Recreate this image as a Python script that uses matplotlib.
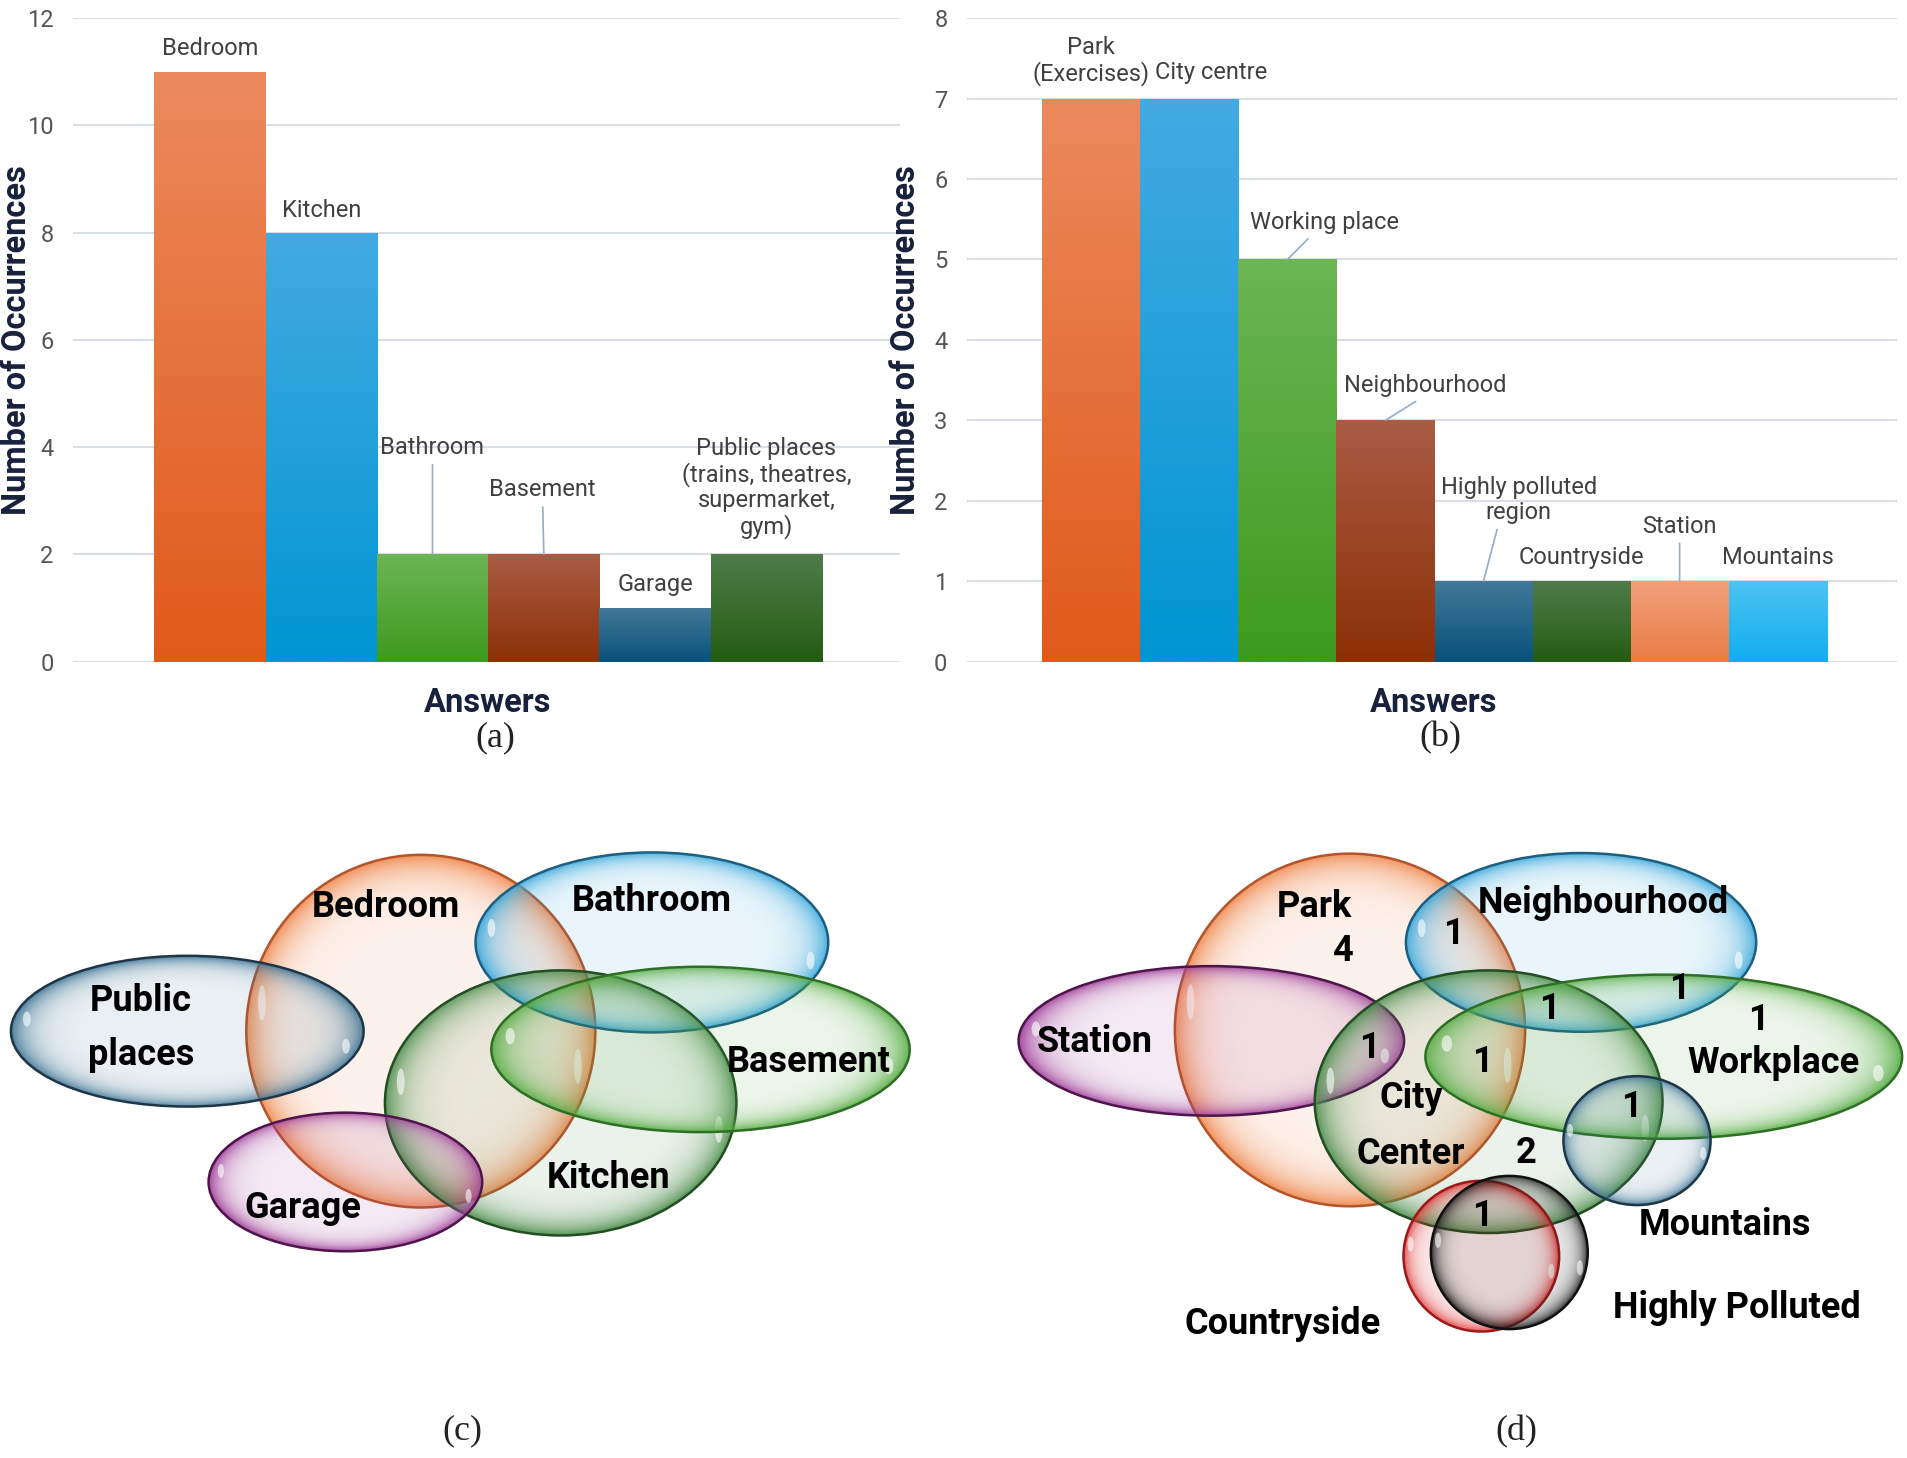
import numpy as np
import matplotlib
matplotlib.use('Agg')
import matplotlib.pyplot as plt
import matplotlib.colors as mcolors
from matplotlib.patches import Ellipse

plt.rcParams['font.family'] = ['Roboto', 'DejaVu Sans']

# ---- bar chart data ----
rooms = ['Bedroom', 'Kitchen', 'Bathroom', 'Basement', 'Garage',
         'Public places\n(trains, theatres,\nsupermarket,\ngym)']
room_counts = [11, 8, 2, 2, 1, 2]
room_top = ['#ec8a5e', '#44aae2', '#6cb655', '#aa5c44', '#427898', '#4f7c4a']
room_bot = ['#e05a1a', '#0096d2', '#3d9a1e', '#8c3006', '#08527a', '#245c12']

places = ['Park\n(Exercises)', 'City centre', 'Working place', 'Neighbourhood',
          'Highly polluted\nregion', 'Countryside', 'Station', 'Mountains']
place_counts = [7, 7, 5, 3, 1, 1, 1, 1]
place_top = ['#ec8a5e', '#44aae2', '#6cb655', '#aa5c44', '#427898', '#4f7c4a', '#f2a07a', '#4ec3f2']
place_bot = ['#e05a1a', '#0096d2', '#3d9a1e', '#8c3006', '#08527a', '#245c12', '#ea7c46', '#10aeee']

# label offsets (dx in bar widths, dy in counts) and leader line flag
room_lbl = [(0, 0.43, False), (0, 0.42, False), (0, 1.99, True),
            (-0.01, 1.20, True), (0, 0.43, False), (0, 1.24, False)]
place_lbl = [(0, 0.47, False), (0.22, 0.32, False), (0.38, 0.46, True),
             (0.41, 0.43, True), (0.36, 1.01, True), (0, 0.29, False),
             (0, 0.68, True), (0, 0.29, False)]
place_relx = [0.5, 0.5, 0.42, 0.48, 0.37, 0.5, 0.5, 0.5]

# ---- venn data (canvas units, 1568 x 1199) ----
venn_c = ['Bedroom', 'Bathroom', 'Public places', 'Kitchen', 'Basement', 'Garage']
venn_c_xy = [(346, 848), (536, 775), (154, 848), (461, 907), (576, 863), (284, 972)]
venn_c_wh = [(287, 290), (290, 148), (290, 124), (289, 218), (344, 136), (225, 114)]
venn_c_col = ['orange', 'blue', 'steel', 'dgreen', 'green', 'purple']
venn_c_text = ['Bedroom', 'Bathroom', 'Public', 'places', 'Basement', 'Kitchen', 'Garage']
venn_c_text_xy = [(317, 746), (536, 741), (116, 823), (116, 868), (665, 873), (500, 969), (249, 993)]

venn_d = ['Park', 'Neighbourhood', 'Station', 'City Center', 'Workplace',
          'Mountains', 'Countryside', 'Highly Polluted']
venn_d_xy = [(1110, 847), (1300, 775), (996, 856), (1224, 906), (1368, 869),
             (1346, 938), (1218, 1033), (1241, 1030)]
venn_d_wh = [(288, 290), (288, 147), (317, 123), (286, 216), (392, 135),
             (121, 106), (128, 124), (129, 126)]
venn_d_col = ['orange', 'blue', 'purple', 'dgreen', 'green', 'steel', 'red', 'black']
venn_d_text = ['Park', '4', 'Neighbourhood', '1', '1', '1', '1', 'Station', '1', '1',
               'Workplace', 'City', '1', 'Center', '2', '1', 'Mountains',
               'Highly Polluted', 'Countryside']
venn_d_text_xy = [(1081, 746), (1104, 782), (1318, 743), (1195, 768), (1381, 813),
                  (1274, 830), (1446, 839), (900, 857), (1126, 862), (1219, 873),
                  (1458, 874), (1160, 903), (1341, 910), (1160, 949), (1255, 948),
                  (1219, 1000), (1418, 1007), (1428, 1076), (1055, 1089)]

palette = {
    'orange': ('#f08a50', '#b5532a'),
    'blue': ('#3aa8dc', '#1d5f80'),
    'steel': ('#3f7595', '#1e3647'),
    'dgreen': ('#4e8f4e', '#234d23'),
    'green': ('#58ad45', '#2f6e25'),
    'purple': ('#a0409a', '#4d154a'),
    'red': ('#e03a3a', '#9e1a1a'),
    'black': ('#202020', '#101010'),
}

fig = plt.figure(figsize=(19.07, 14.58), dpi=100)
W, H = 1568.0, 1199.0


def shade_bars(ax, bars, tops, bots):
    g = np.linspace(0, 1, 200)[:, None, None]
    for b, c1, c2 in zip(bars, tops, bots):
        c1 = np.array(mcolors.to_rgb(c1))
        c2 = np.array(mcolors.to_rgb(c2))
        img = c1 * (1 - g) + c2 * g
        x, y, w, h = b.get_x(), b.get_y(), b.get_width(), b.get_height()
        im = ax.imshow(img, extent=(x, x + w, y, y + h), origin='upper',
                       aspect='auto', zorder=3, interpolation='bilinear')
        im.set_clip_path(b)


def bar_panel(rect, names, counts, tops, bots, lbls, relx, ymax, pad_l, pad_r):
    ax = fig.add_axes(rect)
    x = np.arange(len(names))
    bars = ax.bar(x, counts, width=1.0, color=bots, linewidth=0, zorder=2)
    shade_bars(ax, bars, tops, bots)
    for i, (nm, c, (dx, dy, lead)) in enumerate(zip(names, counts, lbls)):
        kw = {}
        if lead:
            kw['arrowprops'] = dict(arrowstyle='-', color='#8eaecb', lw=1.2,
                                    shrinkA=2, shrinkB=0, relpos=(relx[i], 0))
        ax.annotate(nm, xy=(i, c), xytext=(i + dx, c + dy), ha='center', va='center',
                    fontsize=17, color='#404040', linespacing=1.12, zorder=5, **kw)
    ax.set_xlim(-0.5 - pad_l, len(names) - 0.5 + pad_r)
    ax.set_ylim(0, ymax)
    ax.set_yticks(np.arange(0, ymax + 1, 2 if ymax > 8 else 1))
    ax.grid(axis='y', color='#d9dee6', lw=1.5, zorder=0)
    ax.set_axisbelow(True)
    for s in ax.spines.values():
        s.set_visible(False)
    ax.tick_params(axis='y', length=0, pad=14, labelsize=17, labelcolor='#555555')
    ax.set_xticks([])
    ax.patch.set_alpha(0)
    return ax


bar_panel([60 / W, 1 - 544 / H, 680 / W, 529 / H], rooms, room_counts, room_top, room_bot,
          room_lbl, [0.5] * 6, 12, 0.73, 0.70)
bar_panel([795 / W, 1 - 544 / H, 765 / W, 529 / H], places, place_counts, place_top, place_bot,
          place_lbl, place_relx, 8, 0.77, 0.72)

# ---- overlay canvas for venn diagrams and captions ----
cv = fig.add_axes([0, 0, 1, 1])
cv.set_xlim(0, W)
cv.set_ylim(H, 0)
cv.axis('off')
cv.patch.set_alpha(0)

n = 240
yy, xx = np.mgrid[-1:1:n * 1j, -1:1:n * 1j]
rr = np.clip(np.sqrt(xx ** 2 + yy ** 2), 0, 1)


def bubble(xy, wh, col, z):
    tint, edge = palette[col]
    cx, cy = xy
    w, h = wh
    e = Ellipse((cx, cy), w, h, facecolor='none', edgecolor=edge, lw=1.8, zorder=z + 0.5)
    cv.add_patch(e)
    rgba = np.zeros((n, n, 4))
    rgba[..., :3] = mcolors.to_rgb(tint)
    rgba[..., 3] = 0.11 + 0.80 * rr ** 9
    im = cv.imshow(rgba, extent=(cx - w / 2, cx + w / 2, cy + h / 2, cy - h / 2),
                   zorder=z, interpolation='bilinear', aspect='auto')
    im.set_clip_path(e)
    for sx, sy in [(-0.455, -0.08), (0.45, 0.1)]:
        cv.add_patch(Ellipse((cx + sx * w, cy + sy * h), max(w * 0.022, 5), h * 0.1,
                             facecolor='white', edgecolor='none', alpha=0.6, zorder=z + 0.3))


for k, (xy, wh, col) in enumerate(zip(venn_c_xy, venn_c_wh, venn_c_col)):
    bubble(xy, wh, col, 10 + k)
for k, (xy, wh, col) in enumerate(zip(venn_d_xy, venn_d_wh, venn_d_col)):
    bubble(xy, wh, col, 10 + k)

for t, (x, y) in zip(venn_c_text, venn_c_text_xy):
    cv.text(x, y, t, ha='center', va='center', fontsize=26, fontweight='bold',
            color='black', zorder=40)
for t, (x, y) in zip(venn_d_text, venn_d_text_xy):
    cv.text(x, y, t, ha='center', va='center', fontsize=26, fontweight='bold',
            color='black', zorder=40)

# ---- axis titles and captions ----
for x in [14, 745]:
    cv.text(x, 280, 'Number of Occurrences', rotation=90, ha='center', va='center',
            fontsize=23.5, fontweight='bold', color='#17213c', zorder=40)
for x in [401, 1179]:
    cv.text(x, 578, 'Answers', ha='center', va='center', fontsize=23.5,
            fontweight='bold', color='#17213c', zorder=40)
for t, (x, y) in zip(['(a)', '(b)', '(c)', '(d)'],
                     [(407, 607), (1184, 607), (380, 1177), (1247, 1177)]):
    cv.text(x, y, t, ha='center', va='center', fontsize=26, family='Liberation Serif',
            color='#222222', zorder=40)

fig.savefig('out.png', dpi=100)
